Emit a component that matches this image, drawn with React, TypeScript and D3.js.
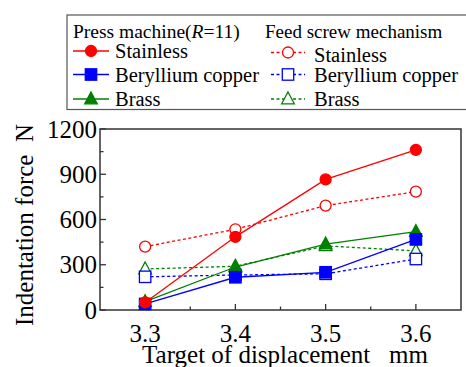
import React from "react";
import * as d3 from "d3";

const targets = [3.3, 3.4, 3.5, 3.6];
const pressStainless = [50, 485, 866, 1062];
const pressBeCu = [40, 217, 250, 468];
const pressBrass = [55, 285, 437, 520];
const feedStainless = [420, 535, 692, 785];
const feedBeCu = [220, 232, 240, 338];
const feedBrass = [272, 290, 425, 392];
const yTicks = [0, 300, 600, 900, 1200];
const yMinor = [150, 450, 750, 1050];
const xMinor = [3.35, 3.45, 3.55];

const W = 466, H = 367;
const L = 100, R = 461, T = 129, B = 310;
const FONT = "'Liberation Serif', 'Times New Roman', serif";

type S = { name: string; values: number[]; color: string; marker: string; filled: boolean; dashed: boolean };
const series: S[] = [
  { name: "Stainless", values: pressStainless, color: "#ff0000", marker: "circle", filled: true, dashed: false },
  { name: "Beryllium copper", values: pressBeCu, color: "#0000ff", marker: "square", filled: true, dashed: false },
  { name: "Brass", values: pressBrass, color: "#008000", marker: "triangle", filled: true, dashed: false },
  { name: "Stainless", values: feedStainless, color: "#ff0000", marker: "circle", filled: false, dashed: true },
  { name: "Beryllium copper", values: feedBeCu, color: "#0000ff", marker: "square", filled: false, dashed: true },
  { name: "Brass", values: feedBrass, color: "#008000", marker: "triangle", filled: false, dashed: true },
];

function Marker({ x, y, s }: { x: number; y: number; s: S }) {
  const fill = s.filled ? s.color : "white";
  const common = { fill, stroke: s.color, strokeWidth: 1.3 };
  if (s.marker === "circle") return <circle cx={x} cy={y} r={5.5} {...common} />;
  if (s.marker === "square") return <rect x={x - 5.7} y={y - 5.7} width={11.4} height={11.4} {...common} />;
  return <path d={`M${x},${y - 7}L${x + 6.3},${y + 4.8}L${x - 6.3},${y + 4.8}Z`} {...common} />;
}

export default function App() {
  const x = d3.scaleLinear().domain([3.25, 3.65]).range([L, R]);
  const y = d3.scaleLinear().domain([0, 1200]).range([B, T]);
  const line = d3.line<number>().x((_, i) => x(targets[i])).y((v) => y(v));

  const legendRows = [51, 74.5, 99];
  return (
    <svg width={W} height={H} style={{ position: "absolute", left: 0, top: 0, background: "white" }} fontFamily={FONT}>
      {/* legend */}
      <rect x={67} y={15} width={400} height={94.5} fill="white" stroke="#555" strokeWidth={1.2} />
      <text x={73} y={38} fontSize={19.5} fontFamily={FONT}>
        Press machine(<tspan fontStyle="italic">R</tspan>=11)
      </text>
      <text x={265} y={38} fontSize={19} fontFamily={FONT}>Feed screw mechanism</text>
      {series.map((s, i) => {
        const col = i < 3 ? 0 : 1;
        const row = i % 3;
        const cy = legendRows[row] + (col === 1 && row === 0 ? 1.5 : 0);
        const x0 = col === 0 ? 73 : 271;
        const x1 = col === 0 ? 109 : 305;
        const tx = col === 0 ? 115 : 314;
        const ty = col === 1 && row === 0 ? 61.5 : cy + 7;
        return (
          <g key={i}>
            <line x1={x0} x2={x1} y1={cy} y2={cy} stroke={s.color} strokeWidth={1.3} strokeDasharray={s.dashed ? "3,2.5" : undefined} />
            <Marker x={(x0 + x1) / 2} y={cy} s={s} />
            <text x={tx} y={ty} fontSize={20.5} fontFamily={FONT}>{s.name}</text>
          </g>
        );
      })}

      {/* plot frame */}
      <rect x={L} y={T} width={R - L} height={B - T} fill="none" stroke="#333" strokeWidth={1.5} />
      {yTicks.map((t) => (
        <g key={"y" + t}>
          <line x1={L} x2={L + 6} y1={y(t)} y2={y(t)} stroke="#333" strokeWidth={1.3} />
          <text x={97} y={y(t) + 8.5} fontSize={25} textAnchor="end" fontFamily={FONT}>{t}</text>
        </g>
      ))}
      {yMinor.map((t) => (
        <line key={"ym" + t} x1={L} x2={L + 3.5} y1={y(t)} y2={y(t)} stroke="#333" strokeWidth={1.3} />
      ))}
      {targets.map((t) => (
        <g key={"x" + t}>
          <line x1={x(t)} x2={x(t)} y1={B} y2={B - 6} stroke="#333" strokeWidth={1.3} />
          <text x={x(t)} y={342} fontSize={25} textAnchor="middle" fontFamily={FONT}>{t.toFixed(1)}</text>
        </g>
      ))}
      {xMinor.map((t) => (
        <line key={"xm" + t} x1={x(t)} x2={x(t)} y1={B} y2={B - 3.5} stroke="#333" strokeWidth={1.3} />
      ))}

      {/* series */}
      {series.slice().reverse().map((s, i) => (
        <g key={"s" + i}>
          <path d={line(s.values) || ""} fill="none" stroke={s.color} strokeWidth={1.3} strokeDasharray={s.dashed ? "3,2.5" : undefined} />
          {s.values.map((v, j) => (
            <Marker key={j} x={x(targets[j])} y={y(v)} s={s} />
          ))}
        </g>
      ))}

      {/* axis titles */}
      <text x={285} y={362.5} fontSize={25} textAnchor="middle" fontFamily={FONT}>
        {"Target of displacement\u00A0\u00A0\u00A0mm"}
      </text>
      <text transform={`translate(33,225) rotate(-90)`} fontSize={25} textAnchor="middle" fontFamily={FONT}>
        {"Indentation force\u00A0\u00A0N"}
      </text>
    </svg>
  );
}
